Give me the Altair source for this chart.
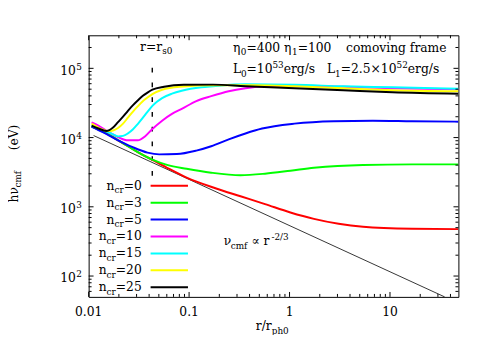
import altair as alt
import pandas as pd

# ---------------- data ----------------
ncr = [0, 3, 5, 10, 15, 20, 25]
colors = ["#ff0000", "#00ff00", "#0000ff", "#ff00ff", "#00ffff", "#ffff00", "#000000"]

r_n0 = [0.0107, 0.0125, 0.0157, 0.0196, 0.0246, 0.0308, 0.0431, 0.0603, 0.0945, 0.186, 0.325, 0.570, 1.02, 1.75, 3.08, 5.39, 16.6, 48]
e_n0 = [14400, 13100, 11100, 9130, 7500, 6170, 4750, 3660, 2640, 1840, 1420, 1094, 829, 670, 569, 516, 483, 476]

r_n3 = [0.0107, 0.0157, 0.0246, 0.0308, 0.0431, 0.0603, 0.0945, 0.166, 0.325, 0.570, 1.02, 1.75, 5.39, 16.6, 48]
e_n3 = [14400, 11100, 7500, 6170, 4800, 4030, 3540, 3110, 2860, 3010, 3320, 3660, 4030, 4100, 4100]

r_n5 = [0.0107, 0.0140, 0.0188, 0.0275, 0.0385, 0.0504, 0.0755, 0.118, 0.166, 0.248, 0.364, 0.533, 1.12, 2.75, 6.75, 16.6, 48]
e_n5 = [14400, 11850, 9430, 7260, 6070, 5720, 5780, 6480, 7500, 9430, 11470, 13500, 15900, 17250, 17540, 17250, 16980]

r_n10 = [0.0107, 0.0125, 0.0157, 0.0196, 0.0246, 0.0308, 0.0368, 0.0431, 0.0539, 0.0675, 0.0845, 0.118, 0.166, 0.248, 0.364, 0.570, 1.12, 3.44, 10.6, 48]
e_n10 = [16600, 14900, 12100, 10170, 9130, 9130, 10540, 13300, 17540, 22020, 25960, 33710, 39680, 46710, 51530, 55010, 55920, 54120, 51530, 49870]

r_n15 = [0.0107, 0.0157, 0.0175, 0.0196, 0.0220, 0.0246, 0.0275, 0.0308, 0.0344, 0.0385, 0.0431, 0.0482, 0.0539, 0.0675, 0.0845, 0.1324, 0.173, 0.364, 1.12, 3.44, 10.6, 48]
e_n15 = [14890, 11980, 11110, 10410, 10580, 11480, 13080, 15660, 19050, 23540, 28640, 33180, 37200, 43060, 47490, 53240, 55030, 58740, 57790, 55030, 53240, 50710]

r_n20 = [0.0107, 0.0125, 0.0157, 0.0175, 0.0196, 0.0220, 0.0246, 0.0275, 0.0308, 0.0344, 0.0385, 0.0431, 0.0539, 0.0808, 0.1855, 0.4556, 1.12, 3.44, 10.6, 48]
e_n20 = [15900, 13950, 12460, 12660, 13740, 15910, 19360, 23540, 28180, 33180, 37800, 42380, 49080, 54130, 56840, 56840, 55010, 51530, 48270, 46710]

r_n25 = [0.0107, 0.0125, 0.0150, 0.0175, 0.0196, 0.0220, 0.0246, 0.0275, 0.0308, 0.0344, 0.0385, 0.0431, 0.0564, 0.0884, 0.173, 0.364, 1.12, 3.44, 10.6, 48]
e_n25 = [14890, 13500, 12460, 13960, 16710, 20000, 24320, 29110, 34270, 39700, 44500, 49080, 54130, 57780, 58150, 55010, 51530, 48270, 45210, 43050]

series_r = [r_n0, r_n3, r_n5, r_n10, r_n15, r_n20, r_n25]
series_e = [e_n0, e_n3, e_n5, e_n10, e_n15, e_n20, e_n25]

# r^-2/3 guide line (end points)
ref_r = [0.0112, 35.0]
ref_e = [10700, 50]

# r = r_s0 marker
rs0 = [0.043]
rs0_lo = [2800]
rs0_hi = [140000]

x_tick_vals = [0.01, 0.1, 1, 10]
x_tick_labels = ["0.01", "0.1", "1", "10"]
y_tick_vals = [1e2, 1e3, 1e4, 1e5]
y_tick_exps = ["2", "3", "4", "5"]

# ---------------- layout ----------------
W, H = 376, 266
FONT = "DejaVu Serif"
BASE, SMALL = 12.5, 9.0
xscale = alt.Scale(type="log", domain=[0.01, 48], nice=False)
yscale = alt.Scale(type="log", domain=[50, 3e5], nice=False)

CW = {" ": 0.318, ".": 0.318, "/": 0.337, "=": 0.838, "-": 0.338, "(": 0.39, ")": 0.39,
      "L": 0.65, "e": 0.592, "r": 0.478, "g": 0.64, "s": 0.513, "n": 0.643, "c": 0.561,
      "m": 0.969, "f": 0.371, "h": 0.643, "p": 0.641, "o": 0.602, "v": 0.569, "i": 0.32,
      "a": 0.596, "E": 0.715, "V": 0.733, "η": 0.643, "ν": 0.57, "×": 0.838, "∝": 0.838}
for d in "0123456789":
    CW[d] = 0.636


def tw(text, size):
    return sum(CW.get(ch, 0.6) for ch in text) * size


KIND = {"n": (BASE, 0.0), "sub": (SMALL, 3.5), "sup": (SMALL, -5.5)}


def compose(segs, x0, y0, align="left", rotate=False):
    total = sum(tw(t, KIND[k][0]) for t, k in segs)
    start = x0 if align == "left" else x0 - total
    rows, d = [], 0.0
    for text, kind in segs:
        fs, off = KIND[kind]
        lead = len(text) - len(text.lstrip(" "))
        d += lead * CW[" "] * fs
        core = text.strip(" ")
        if core:
            if rotate:
                rows.append({"x": x0 + off, "y": y0 - d, "t": core, "s": fs})
            else:
                rows.append({"x": start + d, "y": y0 + off, "t": core, "s": fs})
        d += tw(core, fs)
        d += (len(text) - lead - len(core)) * CW[" "] * fs if core else 0
    return rows


flat = []
flat += compose([("r=r", "n"), ("s0", "sub")], 52.3, 15.5)
flat += compose([("η", "n"), ("0", "sub"), ("=400 ", "n"), ("η", "n"), ("1", "sub"), ("=100", "n")], 146.7, 17)
flat += compose([("comoving frame", "n")], 261.7, 17)
flat += compose([("L", "n"), ("0", "sub"), ("=10", "n"), ("53", "sup"), ("erg/s", "n")], 146.7, 38.5)
flat += compose([("L", "n"), ("1", "sub"), ("=2.5×10", "n"), ("52", "sup"), ("erg/s", "n")], 356.5, 38.5, align="right")
flat += compose([("ν", "n"), ("cmf", "sub"), (" ∝ r", "n"), ("-2/3", "sup")], 137.3, 213.7)
flat += compose([("r/r", "n"), ("ph0", "sub")], 170, 300)
LEG_Y0, LEG_DY = 153.0, 17.2
for i, n in enumerate(ncr):
    flat += compose([("n", "n"), ("cr", "sub"), ("=%d" % n, "n")], 54, LEG_Y0 + LEG_DY * i + 4, align="right")
rot = compose([("hν", "n"), ("cmf", "sub")], -72, 170, rotate=True)
rot += compose([("(eV)", "n")], -72, 117, rotate=True)

layers = []

# guide line
layers.append(alt.Chart(pd.DataFrame({"r": ref_r, "e": ref_e})).mark_line(
    color="black", strokeWidth=0.8, clip=True).encode(
    x=alt.X("r:Q", scale=xscale, axis=None), y=alt.Y("e:Q", scale=yscale, axis=None)))

# dashed r_s0 marker
layers.append(alt.Chart(pd.DataFrame({"r": rs0, "lo": rs0_lo, "hi": rs0_hi})).mark_rule(
    color="black", strokeWidth=1.4, strokeDash=[5, 10]).encode(
    x=alt.X("r:Q", scale=xscale, axis=None), y=alt.Y("lo:Q", scale=yscale, axis=None), y2="hi:Q"))

# curves
for rr, ee, c in zip(series_r, series_e, colors):
    layers.append(alt.Chart(pd.DataFrame({"r": rr, "e": ee})).mark_line(
        color=c, strokeWidth=2, interpolate="monotone", clip=True).encode(
        x=alt.X("r:Q", scale=xscale, axis=None), y=alt.Y("e:Q", scale=yscale, axis=None)))

# ticks (inward, all four sides)
xt = []
for e in range(-2, 2):
    for k in range(1, 10):
        v = k * 10.0 ** e
        if 0.01 < v < 48 or k == 1:
            L = 5 if k == 1 else 3
            xt.append({"v": v, "p0": H, "p1": H - L})
            xt.append({"v": v, "p0": 0, "p1": L})
yt = []
for e in range(1, 6):
    for k in range(1, 10):
        v = k * 10.0 ** e
        if 50 < v < 3e5:
            L = 5 if k == 1 else 3
            yt.append({"v": v, "p0": 0, "p1": L})
            yt.append({"v": v, "p0": W, "p1": W - L})
layers.append(alt.Chart(pd.DataFrame(xt)).mark_rule(color="black", strokeWidth=1).encode(
    x=alt.X("v:Q", scale=xscale, axis=None), y=alt.Y("p0:Q", scale=None, axis=None), y2="p1:Q"))
layers.append(alt.Chart(pd.DataFrame(yt)).mark_rule(color="black", strokeWidth=1).encode(
    y=alt.Y("v:Q", scale=yscale, axis=None), x=alt.X("p0:Q", scale=None, axis=None), x2="p1:Q"))

# tick labels
layers.append(alt.Chart(pd.DataFrame({"v": x_tick_vals, "lab": x_tick_labels})).mark_text(
    align="center", baseline="alphabetic", font=FONT, fontSize=BASE, color="black").encode(
    x=alt.X("v:Q", scale=xscale, axis=None), y=alt.value(285.5), text="lab:N"))
ydf = pd.DataFrame({"v": y_tick_vals, "ten": ["10"] * 4, "ex": y_tick_exps})
layers.append(alt.Chart(ydf).mark_text(
    align="right", baseline="alphabetic", dy=6.3, font=FONT, fontSize=BASE, color="black").encode(
    y=alt.Y("v:Q", scale=yscale, axis=None), x=alt.value(-13), text="ten:N"))
layers.append(alt.Chart(ydf).mark_text(
    align="left", baseline="alphabetic", dy=1.3, font=FONT, fontSize=SMALL, color="black").encode(
    y=alt.Y("v:Q", scale=yscale, axis=None), x=alt.value(-12.5), text="ex:N"))

# legend samples
legdf = pd.DataFrame({"lab": ["n%d" % n for n in ncr], "i": list(range(len(ncr)))})
layers.append(alt.Chart(legdf).transform_calculate(ly="%f + datum.i * %f" % (LEG_Y0, LEG_DY)).mark_rule(
    strokeWidth=2).encode(
    y=alt.Y("ly:Q", scale=None, axis=None), x=alt.value(63), x2=alt.value(101),
    color=alt.Color("lab:N", scale=alt.Scale(domain=["n%d" % n for n in ncr], range=colors), legend=None)))

# text annotations
layers.append(alt.Chart(pd.DataFrame(flat)).mark_text(
    align="left", baseline="alphabetic", font=FONT, color="black").encode(
    x=alt.X("x:Q", scale=None, axis=None), y=alt.Y("y:Q", scale=None, axis=None),
    text="t:N", size=alt.Size("s:Q", scale=None, legend=None)))
layers.append(alt.Chart(pd.DataFrame(rot)).mark_text(
    align="left", baseline="alphabetic", font=FONT, color="black", angle=270).encode(
    x=alt.X("x:Q", scale=None, axis=None), y=alt.Y("y:Q", scale=None, axis=None),
    text="t:N", size=alt.Size("s:Q", scale=None, legend=None)))

chart = alt.layer(*layers).properties(
    width=W, height=H,
    padding={"left": 82, "top": 25, "right": 25, "bottom": 36},
    autosize=alt.AutoSizeParams(type="none"),
    background="white",
).configure_view(stroke="black", strokeWidth=1)

chart.save("out.html", embed_options={"renderer": "svg", "actions": False})
